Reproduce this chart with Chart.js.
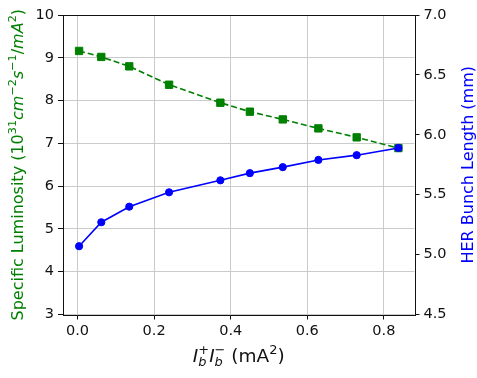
<!DOCTYPE html>
<html>
<head>
<meta charset="utf-8">
<script src="https://cdn.jsdelivr.net/npm/chart.js@4"></script>
<style>
  html, body { margin: 0; padding: 0; background: #fff; }
  #c { display: block; }
</style>
</head>
<body>
<canvas id="c" width="477" height="378"></canvas>
<script>
  /* ---------- data ---------- */
  const currentProduct = [0.004, 0.062, 0.135, 0.239, 0.373, 0.450, 0.536, 0.629, 0.729, 0.838];
  const specLum = [9.16, 9.02, 8.80, 8.37, 7.95, 7.74, 7.56, 7.35, 7.14, 6.89];
  const bunchLen = [5.07, 5.27, 5.40, 5.52, 5.62, 5.68, 5.73, 5.79, 5.83, 5.89];

  const xTicks = [0.0, 0.2, 0.4, 0.6, 0.8];
  const lumTicks = [3, 4, 5, 6, 7, 8, 9, 10];
  const lenTicks = [4.5, 5.0, 5.5, 6.0, 6.5, 7.0];

  const GREEN = "#008000";
  const BLUE = "#0000ff";
  const GRID = "#cbcbcb";
  const INK = "#111";
  const FONT = "'DejaVu Sans'";

  // rich text (super/subscripts, italics) for the axis titles
  const xTitle = [
    { t: "I", it: 1 }, { t: "+", pos: 1 }, { t: "b", it: 1, pos: -1, same: 1 },
    { t: "I", it: 1 }, { t: "\u2212", pos: 1 }, { t: "b", it: 1, pos: -1, same: 1 },
    { t: " (mA" }, { t: "2", pos: 1 }, { t: ")" },
  ];
  const lumTitle = [
    { t: "Specific Luminosity (10" }, { t: "31", pos: 1 },
    { t: "cm", it: 1 }, { t: "\u22122", pos: 1 },
    { t: "s", it: 1 }, { t: "\u22121", pos: 1 },
    { t: "/", }, { t: "mA", it: 1 }, { t: "2", pos: 1 }, { t: ")" },
  ];
  const lenTitle = [{ t: "HER Bunch Length (mm)" }];

  function drawRich(ctx, pieces, cx, cy, size, color, rotate) {
    const fontOf = (p) =>
      (p.it ? "italic " : "") + (p.pos ? size * 0.7 : size) + "px " + FONT;
    let x = 0, prevX = 0;
    const laid = [];
    pieces.forEach((p) => {
      ctx.font = fontOf(p);
      const w = ctx.measureText(p.t).width;
      let px;
      if (p.same) { px = prevX; x = Math.max(x, prevX + w); }
      else { px = x; prevX = x; x += w; }
      laid.push({ p, px });
    });
    ctx.save();
    ctx.translate(cx, cy);
    if (rotate) ctx.rotate(-Math.PI / 2);
    ctx.fillStyle = color;
    ctx.textBaseline = "alphabetic";
    const base = size * 0.36;
    laid.forEach(({ p, px }) => {
      ctx.font = fontOf(p);
      const dy = p.pos === 1 ? -size * 0.42 : p.pos === -1 ? size * 0.22 : 0;
      ctx.fillText(p.t, px - x / 2, base + dy);
    });
    ctx.restore();
  }

  const frameAndTitles = {
    id: "frameAndTitles",
    afterDraw(chart) {
      const { ctx, chartArea: a } = chart;
      ctx.save();
      ctx.strokeStyle = INK;
      ctx.lineWidth = 1;
      ctx.strokeRect(Math.round(a.left) + 0.5, Math.round(a.top) + 0.5,
        Math.round(a.right - a.left), Math.round(a.bottom - a.top));
      ctx.restore();
      const midY = (a.top + a.bottom) / 2;
      drawRich(ctx, lumTitle, 17, midY, 16, GREEN, true);
      drawRich(ctx, lenTitle, 467, midY, 16, BLUE, true);
      drawRich(ctx, xTitle, (a.left + a.right) / 2, 355, 18.5, INK, false);
    },
  };

  const pts = (ys) => currentProduct.map((x, i) => ({ x, y: ys[i] }));
  const tickFont = { family: FONT, size: 14.5 };

  new Chart(document.getElementById("c"), {
    type: "line",
    data: {
      datasets: [
        {
          label: "bunch length",
          data: pts(bunchLen),
          yAxisID: "yLen",
          borderColor: BLUE,
          backgroundColor: BLUE,
          borderWidth: 1.6,
          pointStyle: "circle",
          pointRadius: 3.6,
          pointBorderWidth: 1,
          order: 0,
        },
        {
          label: "specific luminosity",
          data: pts(specLum),
          yAxisID: "yLum",
          borderColor: GREEN,
          backgroundColor: GREEN,
          borderWidth: 1.6,
          borderDash: [6, 3],
          pointStyle: "rect",
          pointRadius: 5.2,
          pointBorderWidth: 1,
          order: 1,
        },
      ],
    },
    options: {
      responsive: false,
      animation: false,
      events: [],
      layout: { padding: { top: 15, left: 0, right: 0, bottom: 0 } },
      plugins: { legend: { display: false }, tooltip: { enabled: false } },
      scales: {
        x: {
          type: "linear",
          min: -0.038,
          max: 0.880,
          afterBuildTicks: (s) => { s.ticks = xTicks.map((v) => ({ value: v })); },
          afterFit: (s) => { s.height = 63.5; },
          border: { display: false },
          grid: { color: GRID, tickColor: INK, tickLength: 5 },
          ticks: { color: INK, font: tickFont, padding: 3, callback: (v) => v.toFixed(1) },
        },
        yLum: {
          position: "left",
          min: 3,
          max: 10,
          afterBuildTicks: (s) => { s.ticks = lumTicks.map((v) => ({ value: v })); },
          afterFit: (s) => { s.width = 63; },
          border: { display: false },
          grid: { color: GRID, tickColor: INK, tickLength: 5 },
          ticks: { color: INK, font: tickFont, padding: 4, callback: (v) => String(v) },
        },
        yLen: {
          position: "right",
          min: 4.5,
          max: 7.0,
          afterBuildTicks: (s) => { s.ticks = lenTicks.map((v) => ({ value: v })); },
          afterFit: (s) => { s.width = 62.5; },
          border: { display: false },
          grid: { drawOnChartArea: false, tickColor: INK, tickLength: 5 },
          ticks: { color: INK, font: tickFont, padding: 4, callback: (v) => v.toFixed(1) },
        },
      },
    },
    plugins: [frameAndTitles],
  });
</script>
</body>
</html>
